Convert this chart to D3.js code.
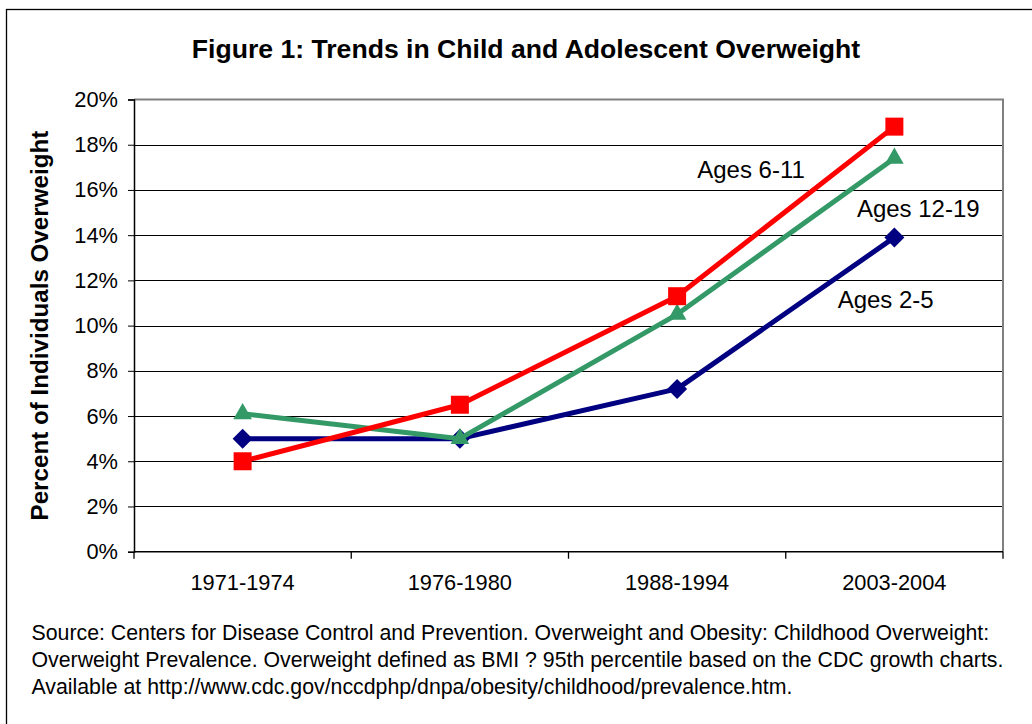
<!DOCTYPE html>
<html>
<head>
<meta charset="utf-8">
<script src="https://cdn.jsdelivr.net/npm/d3@7"></script>
<style>
  html, body { margin: 0; padding: 0; background: #fff; }
  svg { display: block; font-family: Arial, "Liberation Sans", sans-serif; }
</style>
</head>
<body>
<svg id="chart" width="1032" height="724"></svg>
<script>
// Survey periods and prevalence of overweight (fraction of individuals)
const periods = ["1971-1974", "1976-1980", "1988-1994", "2003-2004"];
const ages2to5 = [0.050, 0.050, 0.072, 0.139];
const ages6to11 = [0.040, 0.065, 0.113, 0.188];
const ages12to19 = [0.061, 0.050, 0.105, 0.174];
const yTicks = [0, 0.02, 0.04, 0.06, 0.08, 0.10, 0.12, 0.14, 0.16, 0.18, 0.20];

const seriesNames = ["Ages 2-5", "Ages 12-19", "Ages 6-11"];
const seriesValues = [ages2to5, ages12to19, ages6to11];
const seriesColors = ["#000080", "#339966", "#FF0000"];
const seriesMarkers = ["diamond", "triangle", "square"];
// label anchor: fractional period index and value
const labelIndex = [2.96, 3.11, 2.34];
const labelValue = [0.108, 0.148, 0.1655];

const titleText = "Figure 1: Trends in Child and Adolescent Overweight";
const yTitleText = "Percent of Individuals Overweight";
const sourceLines = [
  "Source: Centers for Disease Control and Prevention. Overweight and Obesity: Childhood Overweight:",
  "Overweight Prevalence. Overweight defined as BMI ? 95th percentile based on the CDC growth charts.",
  "Available at http://www.cdc.gov/nccdphp/dnpa/obesity/childhood/prevalence.htm."
];

const svg = d3.select("#chart");
const plot = { left: 134, right: 1003, top: 99.5, bottom: 551.7 };
const tickFont = 21.8;

// outer frame of the figure
svg.append("rect")
  .attr("x", 6.5).attr("y", 9.5).attr("width", 1200).attr("height", 900)
  .attr("fill", "#fff").attr("stroke", "#000").attr("stroke-width", 1.3);

const x = d3.scaleBand().domain(periods).range([plot.left, plot.right]);
const xc = d => x(d) + x.bandwidth() / 2;
const xi = d3.scaleLinear().domain([0, periods.length - 1])
  .range([xc(periods[0]), xc(periods[periods.length - 1])]);
const y = d3.scaleLinear().domain([0, 0.20]).range([plot.bottom, plot.top]);

// horizontal gridlines
svg.append("g")
  .selectAll("line")
  .data(yTicks.filter(t => t > 0 && t < 0.20))
  .join("line")
  .attr("x1", plot.left).attr("x2", plot.right)
  .attr("y1", d => Math.round(y(d)) + 0.5).attr("y2", d => Math.round(y(d)) + 0.5)
  .attr("stroke", "#000").attr("stroke-width", 1);

// plot frame: gray top and right edges
svg.append("path")
  .attr("d", `M${plot.left},${plot.top}H${plot.right}V${plot.bottom}`)
  .attr("fill", "none").attr("stroke", "#808080").attr("stroke-width", 2);

// y axis
const yAxis = d3.axisLeft(y).tickValues(yTicks).tickFormat(d3.format(".0%"))
  .tickSize(6).tickPadding(10);
const gy = svg.append("g").attr("transform", `translate(${plot.left},0)`).call(yAxis);
gy.select(".domain").attr("stroke", "#000").attr("stroke-width", 1.5);
gy.selectAll(".tick line").attr("stroke", "#000");
gy.selectAll("text").attr("font-size", tickFont).attr("fill", "#000")
  .attr("font-family", "Arial, 'Liberation Sans', sans-serif");

// x axis with ticks at category boundaries
const xAxis = d3.axisBottom(x).tickSize(0).tickPadding(22.5);
const gx = svg.append("g").attr("transform", `translate(0,${plot.bottom})`).call(xAxis);
gx.select(".domain").remove();
gx.selectAll("text").attr("font-size", tickFont).attr("fill", "#000")
  .attr("font-family", "Arial, 'Liberation Sans', sans-serif");
svg.append("line")
  .attr("x1", plot.left).attr("x2", plot.right)
  .attr("y1", plot.bottom).attr("y2", plot.bottom)
  .attr("stroke", "#000").attr("stroke-width", 1.5);
svg.append("g")
  .selectAll("line")
  .data(periods.map(p => x(p)).concat([plot.right]))
  .join("line")
  .attr("x1", d => d).attr("x2", d => d)
  .attr("y1", plot.bottom).attr("y2", plot.bottom + 7)
  .attr("stroke", "#000").attr("stroke-width", 1.3);

// series lines and markers
const line = d3.line().x((d, i) => xc(periods[i])).y(d => y(d));
const symbolFor = {
  square: d3.symbol().type(d3.symbolSquare).size(324),
  triangle: d3.symbol().type(d3.symbolTriangle).size(150),
  diamond: d3.symbol().type(d3.symbolSquare).size(200)
};

seriesValues.forEach((vals, s) => {
  const g = svg.append("g");
  g.append("path")
    .attr("d", line(vals))
    .attr("fill", "none")
    .attr("stroke", seriesColors[s])
    .attr("stroke-width", 5)
    .attr("stroke-linejoin", "round");
  g.selectAll("path.marker")
    .data(vals)
    .join("path")
    .attr("class", "marker")
    .attr("d", symbolFor[seriesMarkers[s]]())
    .attr("transform", (d, i) => `translate(${xc(periods[i])},${y(d)})` +
      (seriesMarkers[s] === "diamond" ? " rotate(45)" : ""))
    .attr("fill", seriesColors[s]);
});

// series labels
svg.append("g")
  .selectAll("text")
  .data(seriesNames)
  .join("text")
  .attr("x", (d, i) => xi(labelIndex[i]))
  .attr("y", (d, i) => y(labelValue[i]))
  .attr("text-anchor", "middle")
  .attr("font-size", 24)
  .text(d => d);

// title
svg.append("text")
  .attr("x", 526).attr("y", 58)
  .attr("text-anchor", "middle")
  .attr("font-size", 26.6).attr("font-weight", "bold")
  .text(titleText);

// y axis title
svg.append("text")
  .attr("transform", `translate(48,${(plot.top + plot.bottom) / 2}) rotate(-90)`)
  .attr("text-anchor", "middle")
  .attr("font-size", 24.2).attr("font-weight", "bold")
  .text(yTitleText);

// source note
svg.append("g")
  .selectAll("text")
  .data(sourceLines)
  .join("text")
  .attr("x", 31.5)
  .attr("y", (d, i) => 639.5 + i * 27.3)
  .attr("font-size", 21.3)
  .text(d => d);
</script>
</body>
</html>
